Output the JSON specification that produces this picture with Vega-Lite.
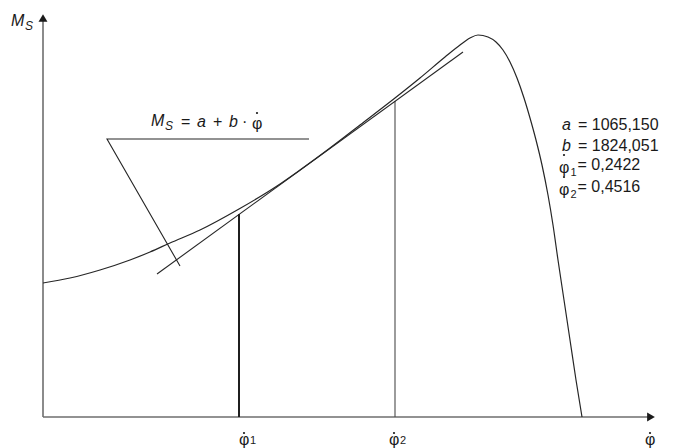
{
  "$schema": "https://vega.github.io/schema/vega-lite/v6.json",
  "width": 613,
  "height": 405,
  "autosize": {"type": "none"},
  "padding": {"left": 43, "top": 12, "right": 28, "bottom": 31},
  "background": "white",
  "config": {"view": {"stroke": null}, "text": {"font": "Liberation Sans", "color": "#1a1a1a"}},
  "datasets": {
    "curve": [
      {"i": 0, "x": 0, "y": 134}, {"i": 1, "x": 27, "y": 139}, {"i": 2, "x": 57, "y": 147},
      {"i": 3, "x": 87, "y": 157}, {"i": 4, "x": 107, "y": 165}, {"i": 5, "x": 127, "y": 174},
      {"i": 6, "x": 157, "y": 187}, {"i": 7, "x": 196, "y": 208}, {"i": 8, "x": 234, "y": 231},
      {"i": 9, "x": 257, "y": 247}, {"i": 10, "x": 287, "y": 269}, {"i": 11, "x": 317, "y": 292},
      {"i": 12, "x": 352, "y": 319}, {"i": 13, "x": 377, "y": 339}, {"i": 14, "x": 402, "y": 360},
      {"i": 15, "x": 417, "y": 372}, {"i": 16, "x": 427, "y": 379}, {"i": 17, "x": 435, "y": 382},
      {"i": 18, "x": 445, "y": 380}, {"i": 19, "x": 453, "y": 375}, {"i": 20, "x": 460, "y": 367},
      {"i": 21, "x": 467, "y": 355}, {"i": 22, "x": 474, "y": 339}, {"i": 23, "x": 481, "y": 319},
      {"i": 24, "x": 487, "y": 299}, {"i": 25, "x": 493, "y": 277}, {"i": 26, "x": 499, "y": 252},
      {"i": 27, "x": 505, "y": 222}, {"i": 28, "x": 510, "y": 192}, {"i": 29, "x": 515, "y": 157},
      {"i": 30, "x": 521, "y": 117}, {"i": 31, "x": 527, "y": 77}, {"i": 32, "x": 533, "y": 37},
      {"i": 33, "x": 539, "y": 0}
    ],
    "tangent": [{"x": 114, "y": 143, "x2": 420, "y2": 365}],
    "leader": [
      {"i": 0, "x": 266, "y": 278}, {"i": 1, "x": 64, "y": 278}, {"i": 2, "x": 137, "y": 151}
    ],
    "phi1": [{"x": 196, "y": 0, "y2": 203}],
    "phi2": [{"x": 352, "y": 0, "y2": 316}],
    "axes": [{"x": 0, "y": 0, "x2": 0, "y2": 397}, {"x": 0, "y": 0, "x2": 605, "y2": 0}],
    "arrowUp": [{"x": 0, "y": 399}],
    "arrowRight": [{"x": 608, "y": 0}],
    "italicText": [
      {"x": -32, "y": 396, "t": "M"},
      {"x": 108, "y": 296, "t": "M"},
      {"x": 154, "y": 295, "t": "a"},
      {"x": 186, "y": 295, "t": "b"},
      {"x": 519, "y": 292, "t": "a"},
      {"x": 519, "y": 271, "t": "b"}
    ],
    "italicSub": [
      {"x": -18, "y": 391, "t": "S"},
      {"x": 122, "y": 291, "t": "S"}
    ],
    "plainText": [
      {"x": 138, "y": 295, "t": "="},
      {"x": 170, "y": 295, "t": "+"},
      {"x": 199, "y": 295, "t": "·"},
      {"x": 209, "y": 293, "t": "φ"},
      {"x": 535, "y": 292, "t": "= 1065,150"},
      {"x": 535, "y": 271, "t": "= 1824,051"},
      {"x": 516, "y": 249, "t": "φ"},
      {"x": 534.5, "y": 252, "t": "= 0,2422"},
      {"x": 516, "y": 227, "t": "φ"},
      {"x": 534.5, "y": 230, "t": "= 0,4516"},
      {"x": 196, "y": -23, "t": "φ"},
      {"x": 346, "y": -23, "t": "φ"},
      {"x": 602, "y": -23, "t": "φ"}
    ],
    "plainSub": [
      {"x": 527.5, "y": 244, "t": "1"},
      {"x": 527.5, "y": 222, "t": "2"},
      {"x": 207, "y": -24, "t": "1"},
      {"x": 357, "y": -24, "t": "2"}
    ],
    "dots": [
      {"x": 214, "y": 304},
      {"x": 521, "y": 262},
      {"x": 521, "y": 240},
      {"x": 201, "y": -16},
      {"x": 351, "y": -16},
      {"x": 607, "y": -16}
    ]
  },
  "encoding": {
    "x": {"field": "x", "type": "quantitative", "scale": {"domain": [0, 613], "nice": false, "zero": false}, "axis": null},
    "y": {"field": "y", "type": "quantitative", "scale": {"domain": [0, 405], "nice": false, "zero": false}, "axis": null}
  },
  "layer": [
    {
      "data": {"name": "axes"},
      "mark": {"type": "rule", "color": "#6e6e6e", "strokeWidth": 1.6},
      "encoding": {"x2": {"field": "x2"}, "y2": {"field": "y2"}}
    },
    {
      "data": {"name": "arrowUp"},
      "mark": {"type": "point", "shape": "triangle-up", "filled": true, "color": "#1a1a1a", "size": 80, "opacity": 1},
      "encoding": {}
    },
    {
      "data": {"name": "arrowRight"},
      "mark": {"type": "point", "shape": "triangle-right", "filled": true, "color": "#1a1a1a", "size": 80, "opacity": 1},
      "encoding": {}
    },
    {
      "data": {"name": "phi1"},
      "mark": {"type": "rule", "color": "#1f1f1f", "strokeWidth": 2},
      "encoding": {"y2": {"field": "y2"}}
    },
    {
      "data": {"name": "phi2"},
      "mark": {"type": "rule", "color": "#4a4a4a", "strokeWidth": 1.1},
      "encoding": {"y2": {"field": "y2"}}
    },
    {
      "data": {"name": "tangent"},
      "mark": {"type": "rule", "color": "#262626", "strokeWidth": 1.1},
      "encoding": {"x2": {"field": "x2"}, "y2": {"field": "y2"}}
    },
    {
      "data": {"name": "curve"},
      "mark": {"type": "line", "color": "#262626", "strokeWidth": 1.2, "interpolate": "monotone"},
      "encoding": {"order": {"field": "i", "type": "quantitative"}}
    },
    {
      "data": {"name": "leader"},
      "mark": {"type": "line", "color": "#262626", "strokeWidth": 1.1},
      "encoding": {"order": {"field": "i", "type": "quantitative"}}
    },
    {
      "data": {"name": "italicText"},
      "mark": {"type": "text", "fontSize": 16, "fontStyle": "italic", "align": "left", "baseline": "middle"},
      "encoding": {"text": {"field": "t"}}
    },
    {
      "data": {"name": "italicSub"},
      "mark": {"type": "text", "fontSize": 12, "fontStyle": "italic", "align": "left", "baseline": "middle"},
      "encoding": {"text": {"field": "t"}}
    },
    {
      "data": {"name": "plainText"},
      "mark": {"type": "text", "fontSize": 16, "align": "left", "baseline": "middle"},
      "encoding": {"text": {"field": "t"}}
    },
    {
      "data": {"name": "plainSub"},
      "mark": {"type": "text", "fontSize": 11, "align": "left", "baseline": "middle"},
      "encoding": {"text": {"field": "t"}}
    },
    {
      "data": {"name": "dots"},
      "mark": {"type": "point", "shape": "circle", "filled": true, "color": "#1a1a1a", "size": 5, "opacity": 1},
      "encoding": {}
    }
  ]
}
